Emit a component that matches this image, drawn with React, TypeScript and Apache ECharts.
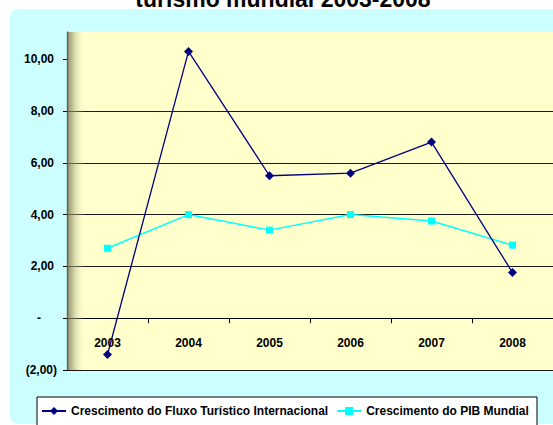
import React, { useEffect, useRef } from 'react';
import * as echarts from 'echarts';

const years = ['2003', '2004', '2005', '2006', '2007', '2008'];
const tourismGrowth = [-1.4, 10.3, 5.5, 5.6, 6.8, 1.76];
const gdpGrowth = [2.7, 4.0, 3.4, 4.0, 3.75, 2.82];
const yTicks = [-2, 0, 2, 4, 6, 8, 10];
const seriesNames = ['Crescimento do Fluxo Turístico Internacional', 'Crescimento do PIB Mundial'];
const titleText = 'turismo mundial 2003-2008';

const FONT = "'Liberation Sans', Arial, sans-serif";

function fmt(v: number): string {
  if (Math.abs(v) < 1e-9) return '{z|-}';
  const s = Math.abs(v).toFixed(2).replace('.', ',');
  if (v < 0) return '{n|(' + s + ')}';
  return '{p|' + s + '}';
}

const labelBase = { fontFamily: FONT, fontWeight: 'bold' as const, fontSize: 12, color: '#000' };

export default function App() {
  const ref = useRef<HTMLDivElement>(null);
  useEffect(() => {
    if (!ref.current) return;
    const chart = echarts.init(ref.current, null, { renderer: 'svg' });
    chart.setOption({
      animation: false,
      backgroundColor: '#ffffff',
      graphic: [
        {
          type: 'rect',
          z: -10,
          shape: { x: 10, y: 9, width: 570, height: 415, r: 8 },
          style: { fill: '#CCFFFF' },
        },
        {
          type: 'rect',
          z: 1,
          silent: true,
          shape: { x: 67, y: 32, width: 18, height: 338 },
          style: {
            fill: new echarts.graphic.LinearGradient(0, 0, 1, 0, [
              { offset: 0, color: 'rgba(110,110,80,0.85)' },
              { offset: 1, color: 'rgba(255,255,204,0)' },
            ]),
          },
        },
        {
          type: 'rect',
          z: 0,
          shape: { x: 37, y: 397, width: 500, height: 50 },
          style: { fill: '#ffffff', stroke: '#000', lineWidth: 1 },
        },
        {
          type: 'text',
          x: 283,
          y: 10,
          style: {
            text: titleText,
            font: "bold 23px 'Liberation Sans', Arial, sans-serif",
            align: 'center',
            verticalAlign: 'bottom',
            fill: '#000',
          },
        },
      ],
      grid: {
        left: 67,
        right: -5,
        top: 32,
        bottom: 55,
        show: true,
        backgroundColor: '#FFFFCC',
        borderWidth: 0,
        containLabel: false,
      },
      legend: {
        left: 41,
        top: 405,
        padding: 0,
        itemGap: 8,
        itemWidth: 24,
        itemHeight: 10,
        data: seriesNames,
        textStyle: { ...labelBase },
      },
      xAxis: {
        type: 'category',
        data: years,
        boundaryGap: true,
        axisLine: { onZero: true, lineStyle: { color: '#000', width: 1.2 } },
        axisTick: { show: true, inside: false, length: 5, lineStyle: { color: '#000' } },
        axisLabel: { ...labelBase, margin: -33 },
        splitLine: { show: false },
      },
      yAxis: {
        type: 'value',
        min: -2,
        max: 11.05,
        interval: 2,
        axisLine: { show: true, lineStyle: { color: '#000', width: 1.2 } },
        axisTick: { show: true, length: 4, lineStyle: { color: '#000' }, customValues: yTicks },
        axisLabel: {
          ...labelBase,
          margin: 10,
          customValues: yTicks,
          formatter: (v: number) => fmt(v),
          rich: {
            p: { ...labelBase, padding: [0, 3, 0, 0] },
            n: { ...labelBase },
            z: { ...labelBase, padding: [0, 16, 0, 0] },
          },
        },
        splitLine: { show: true, showMaxLine: false, lineStyle: { color: '#1a1a1a', width: 1.2 } },
      },
      series: [
        {
          name: seriesNames[0],
          type: 'line',
          data: tourismGrowth,
          symbol: 'diamond',
          symbolSize: 9,
          clip: false,
          itemStyle: { color: '#000080' },
          lineStyle: { color: '#000080', width: 1.3 },
          z: 3,
        },
        {
          name: seriesNames[1],
          type: 'line',
          data: gdpGrowth,
          symbol: 'rect',
          symbolSize: 7,
          clip: false,
          itemStyle: { color: '#00FFFF' },
          lineStyle: { color: '#00FFFF', width: 1.5 },
          z: 2,
        },
      ],
    });
    return () => chart.dispose();
  }, []);
  return (
    <div
      ref={ref}
      style={{ position: 'absolute', left: 0, top: 0, width: 553, height: 425 }}
    />
  );
}
